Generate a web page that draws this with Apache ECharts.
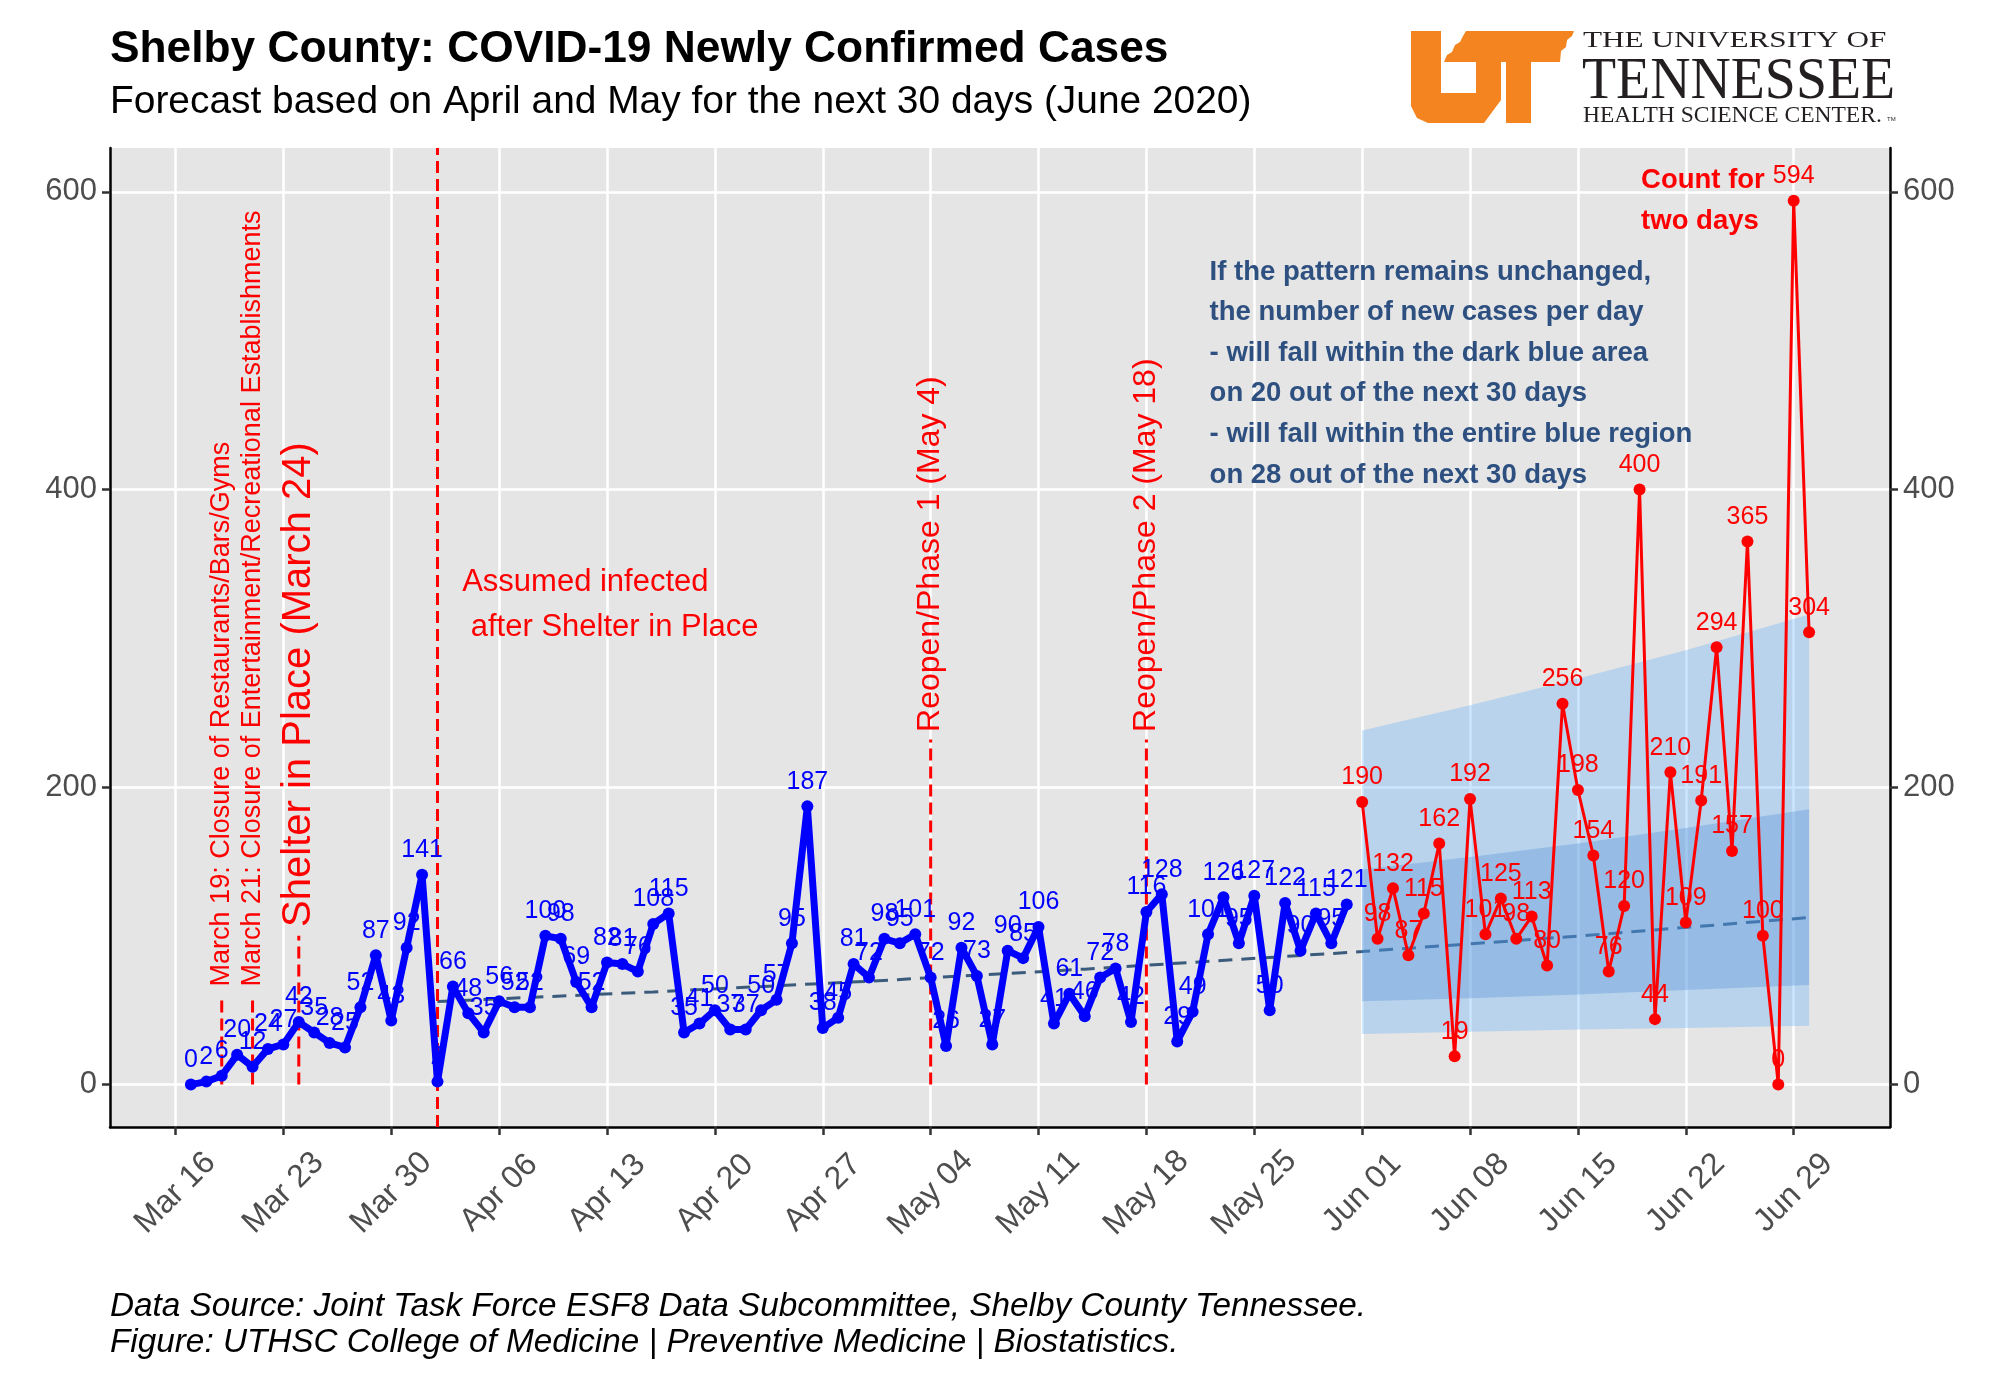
<!DOCTYPE html>
<html>
<head>
<meta charset="utf-8">
<script src="https://cdn.jsdelivr.net/npm/echarts@6/dist/echarts.min.js"></script>
<style>
html,body{margin:0;padding:0;background:#ffffff;}
#chart{width:2000px;height:1400px;}
</style>
</head>
<body>
<div id="chart"></div>
<script>
// ---------- DATA (day 0 = Mar 16, 2020) ----------
const tickDays   = [0, 7, 14, 21, 28, 35, 42, 49, 56, 63, 70, 77, 84, 91, 98, 105];
const tickLabels = ['Mar 16','Mar 23','Mar 30','Apr 06','Apr 13','Apr 20','Apr 27','May 04',
                    'May 11','May 18','May 25','Jun 01','Jun 08','Jun 15','Jun 22','Jun 29'];
const yTicks = [0, 200, 400, 600];

// observed daily new cases, Mar 17 .. May 31
const observedStartDay = 1;
const observed = [0,2,6,20,12,24,27,42,35,28,
                  25,52,87,43,92,141,2,66,48,35,
                  56,52,52,100,98,69,52,82,81,76,
                  108,115,35,41,50,37,37,50,57,95,
                  187,38,45,81,72,98,95,101,72,26,
                  92,73,27,90,85,106,41,61,46,72,
                  78,42,116,128,29,49,101,126,95,127,
                  50,122,90,115,95,121];

// June daily new cases, Jun 1 .. Jun 30
const juneStartDay = 77;
const june = [190,98,132,87,115,162,19,192,101,125,
              98,113,80,256,198,154,76,120,400,44,
              210,109,191,294,157,365,100,0,594,304];

// trend line (dashed)
const trendDays   = [17, 31, 45, 59, 77, 91, 106];
const trendValues = [55.8, 62.3, 69.5, 77.6, 89.4, 99.8, 112.3];

// forecast bands
const bandDays  = [77, 84, 91, 98, 106];
const outerHigh = [238, 255, 273, 292, 316];
const outerLow  = [34, 35.5, 37, 38, 39.5];
const innerHigh = [144.5, 153, 162, 172.5, 185];
const innerLow  = [56, 58, 60.5, 63.5, 67];

// event lines (day, from value, to value)
const eventDays    = [3, 5, 8, 17, 49, 63];
const eventBottoms = [0, 0, 0, -28.5, 0, 0];
const eventTops    = [57, 57, 100, 629.5, 232, 232];

// annotations
const noteTexts = [
  'March 19: Closure of Restaurants/Bars/Gyms',
  'March 21: Closure of Entertainment/Recreational Establishments',
  'Shelter in Place (March 24)',
  'Reopen/Phase 1 (May 4)',
  'Reopen/Phase 2 (May 18)',
  'Assumed infected\n after Shelter in Place',
  'If the pattern remains unchanged,\nthe number of new cases per day\n- will fall within the dark blue area\non 20 out of the next 30 days\n- will fall within the entire blue region\non 28 out of the next 30 days',
  'Count for\ntwo days'
];
const noteDays   = [3, 5, 8, 49, 63, 18.6, 67.1, 95.1];
const noteValues = [66, 66, 106, 237, 237, 352.3, 559.8, 622];

// ---------- STYLE ----------
const FONT = '"Liberation Sans", Arial, Helvetica, sans-serif';
const X_MIN = -4.25, X_MAX = 111.25, Y_MIN = -28.5, Y_MAX = 629.5;
const noteStyle = [
  {size:27, rot:true,  color:'#ff0000', weight:'normal', lh:null, va:'middle'},
  {size:27, rot:true,  color:'#ff0000', weight:'normal', lh:null, va:'middle'},
  {size:40, rot:true,  color:'#ff0000', weight:'normal', lh:null, va:'middle'},
  {size:32, rot:true,  color:'#ff0000', weight:'normal', lh:null, va:'middle'},
  {size:32, rot:true,  color:'#ff0000', weight:'normal', lh:null, va:'middle'},
  {size:31, rot:false, color:'#ff0000', weight:'normal', lh:44.5, va:'top'},
  {size:27.5, rot:false, color:'#2d5080', weight:'bold', lh:40.6, va:'top'},
  {size:27.5, rot:false, color:'#ff0000', weight:'bold', lh:41.7, va:'top'}
];

const chart = echarts.init(document.getElementById('chart'), null, {renderer:'canvas', devicePixelRatio:1});

function axisCommon(){
  return {
    type:'value', min:Y_MIN, max:Y_MAX,
    axisLine:{show:true, onZero:false, lineStyle:{color:'#000000', width:2.5}},
    axisTick:{show:true, length:8, customValues:yTicks, lineStyle:{color:'#333333', width:2.5}},
    axisLabel:{customValues:yTicks, fontSize:31, color:'#4d4d4d', fontFamily:FONT, margin:13},
  };
}
const yLeft = Object.assign(axisCommon(), {position:'left', splitLine:{show:true, lineStyle:{color:'#ffffff', width:2.5}}});
const yRight = Object.assign(axisCommon(), {position:'right', splitLine:{show:false}});

const option = {
  animation:false,
  backgroundColor:'#ffffff',
  grid:{left:110, right:110, top:148, bottom:273, show:true, backgroundColor:'#e5e5e5', borderWidth:0},
  xAxis:{
    type:'value', min:X_MIN, max:X_MAX,
    axisLine:{show:true, onZero:false, lineStyle:{color:'#000000', width:2.5}},
    axisTick:{show:true, length:8, customValues:tickDays, lineStyle:{color:'#333333', width:2.5}},
    axisLabel:{customValues:tickDays, formatter:function(v){return tickLabels[tickDays.indexOf(v)];},
               rotate:45, align:'center', verticalAlign:'middle', margin:66,
               fontSize:32, color:'#4d4d4d', fontFamily:FONT},
    splitLine:{show:true, lineStyle:{color:'#ffffff', width:2.5}}
  },
  yAxis:[yLeft, yRight],
  graphic:[
    {type:'text', left:110, top:28, style:{text:'Shelby County: COVID-19 Newly Confirmed Cases', font:'bold 44.3px ' + FONT, fill:'#000000'}},
    {type:'text', left:110, top:83, style:{text:'Forecast based on April and May for the next 30 days (June 2020)', font:'38.9px ' + FONT, fill:'#000000'}},
    {type:'text', left:110, top:1288, style:{text:'Data Source: Joint Task Force ESF8 Data Subcommittee, Shelby County Tennessee.\nFigure: UTHSC College of Medicine | Preventive Medicine | Biostatistics.', font:'italic 33.3px ' + FONT, fill:'#000000', lineHeight:36.5}},
    // logo
    {type:'polygon', shape:{points:[[1411,31],[1441,31],[1441,93],[1476,93],[1476,62],[1501,62],[1501,100],[1484,123],[1428,123],[1417,118],[1411,106]]}, style:{fill:'#f4841f'}},
    {type:'polygon', shape:{points:[[1466,31],[1574,31],[1572,36],[1567,40],[1566,47],[1561,51],[1560,62],[1444,62],[1447,55],[1452,52],[1455,45],[1460,42],[1463,36]]}, style:{fill:'#f4841f'}},
    {type:'rect', shape:{x:1506, y:60, width:25, height:63}, style:{fill:'#f4841f'}},
    {type:'text', x:1583, y:29, scaleX:1.3, style:{text:'THE UNIVERSITY OF', font:'24px "Liberation Serif", "DejaVu Serif", serif', fill:'#231f20'}},
    {type:'text', x:1582, y:52, scaleX:0.93, style:{text:'TENNESSEE', font:'60px "Liberation Serif", "DejaVu Serif", serif', fill:'#231f20'}},
    {type:'text', x:1583, y:104, style:{text:'HEALTH SCIENCE CENTER.', font:'23.5px "Liberation Serif", "DejaVu Serif", serif', fill:'#231f20'}},
    {type:'text', x:1887, y:116, style:{text:'TM', font:'6px ' + FONT, fill:'#231f20'}}
  ],
  series:[
    { // trend line
      type:'line', data:trendDays.map((d,i)=>[d, trendValues[i]]), symbol:'none', silent:true,
      lineStyle:{color:'#3b5b7c', width:3, type:[14,9]}, z:2
    },
    { // forecast bands
      type:'custom', silent:true, z:3, clip:false,
      data:[[bandDays[0], outerHigh[0]]],
      renderItem:function(params, api){
        const poly = (hi, lo) => {
          const pts = [];
          for (let i=0;i<bandDays.length;i++) pts.push(api.coord([bandDays[i], hi[i]]));
          for (let i=bandDays.length-1;i>=0;i--) pts.push(api.coord([bandDays[i], lo[i]]));
          return pts;
        };
        return {type:'group', children:[
          {type:'polygon', shape:{points:poly(outerHigh, outerLow)}, style:{fill:'rgba(82,169,252,0.3)'}},
          {type:'polygon', shape:{points:poly(innerHigh, innerLow)}, style:{fill:'rgba(68,131,209,0.3)'}}
        ]};
      }
    },
    { // event lines
      type:'custom', silent:true, z:4, clip:false,
      data:eventDays.map((d,i)=>[d, eventTops[i]]),
      renderItem:function(params, api){
        const i = params.dataIndex;
        const p0 = api.coord([eventDays[i], eventBottoms[i]]);
        const p1 = api.coord([eventDays[i], eventTops[i]]);
        return {type:'line', shape:{x1:p0[0], y1:p0[1], x2:p1[0], y2:p1[1]},
                style:{stroke:'#ff0000', lineWidth:3, lineDash:[12,6]}};
      }
    },
    { // annotations
      type:'custom', silent:true, z:5, clip:false,
      data:noteDays.map((d,i)=>[d, noteValues[i]]),
      renderItem:function(params, api){
        const i = params.dataIndex;
        const s = noteStyle[i];
        const p = api.coord([noteDays[i], noteValues[i]]);
        const st = {text:noteTexts[i], fill:s.color, font:s.weight + ' ' + s.size + 'px ' + FONT,
                    align:'left', verticalAlign:s.va};
        if (s.lh) st.lineHeight = s.lh;
        return {type:'text', x:p[0], y:p[1], rotation: s.rot ? Math.PI/2 : 0, style:st};
      }
    },
    { // observed
      type:'line', data:observed.map((v,i)=>[observedStartDay+i, v]),
      symbol:'circle', symbolSize:12, z:10,
      lineStyle:{color:'#0000ff', width:7}, itemStyle:{color:'#0000ff'},
      label:{show:true, position:'top', distance:6, fontSize:25, color:'#0000ff', fontFamily:FONT}
    },
    { // June
      type:'line', data:june.map((v,i)=>[juneStartDay+i, v]),
      symbol:'circle', symbolSize:12, z:10,
      lineStyle:{color:'#ff0000', width:3}, itemStyle:{color:'#ff0000'},
      label:{show:true, position:'top', distance:6, fontSize:25, color:'#ff0000', fontFamily:FONT}
    }
  ]
};
chart.setOption(option);
</script>
</body>
</html>
